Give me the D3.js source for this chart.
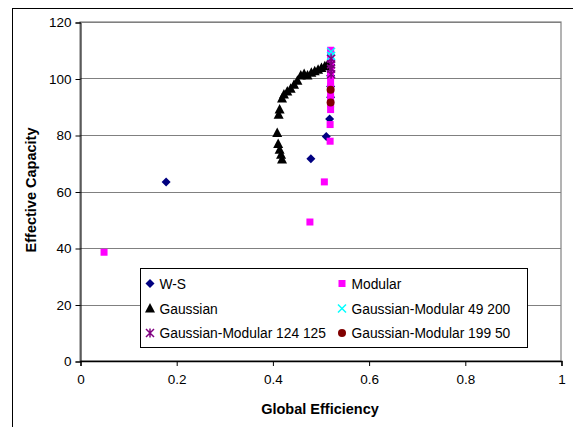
<!DOCTYPE html>
<html><head><meta charset="utf-8">
<script src="https://cdn.jsdelivr.net/npm/d3@7"></script>
<style>body{margin:0;background:#fff}svg{display:block}text{font-family:Arial,"Liberation Sans",sans-serif}</style>
</head><body>
<script>
const xTicks = [0, 0.2, 0.4, 0.6, 0.8, 1];
const yTicks = [0, 20, 40, 60, 80, 100, 120];
const seriesNames = ["W-S", "Modular", "Gaussian", "Gaussian-Modular 49 200", "Gaussian-Modular 124 125", "Gaussian-Modular 199 50"];

const wsX = [0.179, 0.48, 0.512, 0.519, 0.521, 0.521, 0.521, 0.521];
const wsY = [63.4, 71.6, 79.5, 85.7, 93.4, 97.2, 101, 105];

const modX = [0.05, 0.478, 0.508, 0.52, 0.52, 0.521, 0.521, 0.521, 0.521, 0.521, 0.521, 0.521, 0.521, 0.521, 0.521, 0.521, 0.521];
const modY = [38.5, 49.2, 63.4, 77.8, 83.7, 89, 91, 93, 95, 97, 99, 101, 103, 105, 107, 109, 110];

const gauX = [0.420, 0.418, 0.415, 0.412, 0.410, 0.413, 0.415, 0.420, 0.424, 0.431, 0.438, 0.445, 0.452, 0.459, 0.466, 0.473, 0.481, 0.488, 0.495, 0.502, 0.509, 0.515];
const gauY = [71.3, 73.0, 74.8, 76.8, 80.7, 87.2, 89.0, 92.9, 94.3, 95.4, 96.4, 97.8, 99.2, 101.1, 101.6, 101.1, 102.0, 102.6, 103.1, 103.7, 104.3, 105.0];

const gm49X = [0.522, 0.522];
const gm49Y = [109.5, 108];

const gm124X = [0.522, 0.522, 0.522, 0.522];
const gm124Y = [107, 105, 103.5, 101.5];

const gm199X = [0.521, 0.521];
const gm199Y = [96, 91.5];

const W = 573, H = 427;
const svg = d3.select("body").append("svg").attr("width", W).attr("height", H);

// outer chart frame
svg.append("rect").attr("x", 12.5).attr("y", 8.5).attr("width", 700).attr("height", 600)
  .attr("fill", "#fff").attr("stroke", "#000").attr("stroke-width", 1);

const x = d3.scaleLinear().domain([0, 1]).range([80, 561]);
const y = d3.scaleLinear().domain([0, 120]).range([361, 22]);

// plot area border
svg.append("rect").attr("x", 80).attr("y", 22).attr("width", 481).attr("height", 339)
  .attr("fill", "none").attr("stroke", "#808080").attr("stroke-width", 1.2);

// gridlines
svg.append("g").selectAll("line").data(yTicks.filter(d => d > 0)).join("line")
  .attr("x1", 80).attr("x2", 561).attr("y1", d => Math.round(y(d)) + 0.5).attr("y2", d => Math.round(y(d)) + 0.5)
  .attr("stroke", "#808080").attr("stroke-width", 1.2);

// axes
const yAxis = d3.axisLeft(y).tickValues(yTicks).tickSize(5).tickPadding(4).tickFormat(d3.format("d"));
const gy = svg.append("g").attr("transform", "translate(80.5,0.5)").call(yAxis);
gy.selectAll("text").attr("font-size", 13.5).attr("fill", "#000");
gy.select(".domain").attr("stroke", "#000");

const xAxis = d3.axisBottom(x).tickValues(xTicks).tickSize(5).tickPadding(8).tickFormat(d => d === 0 || d === 1 ? String(d) : d3.format(".1f")(d));
const gx = svg.append("g").attr("transform", "translate(0.5,361)").call(xAxis);
gx.selectAll("text").attr("font-size", 13.5).attr("fill", "#000");
gx.select(".domain").attr("stroke", "#000").attr("stroke-width", 1.3);

// axis titles
svg.append("text").attr("x", 320).attr("y", 414).attr("text-anchor", "middle")
  .attr("font-size", 14.5).attr("font-weight", "bold").text("Global Efficiency");
svg.append("text").attr("transform", "translate(36,190) rotate(-90)").attr("text-anchor", "middle")
  .attr("font-size", 14.5).attr("font-weight", "bold").text("Effective Capacity");

// marker drawers
const markers = {
  diamond: (g, col) => g.append("path").attr("d", "M0,-4.5L4.5,0L0,4.5L-4.5,0Z").attr("fill", col),
  square: (g, col) => g.append("rect").attr("x", -3.5).attr("y", -3.5).attr("width", 7).attr("height", 7).attr("fill", col),
  triangle: (g, col) => g.append("path").attr("d", "M0,-5.5L5,4L-5,4Z").attr("fill", col),
  xmark: (g, col) => g.append("path").attr("d", "M-4,-4L4,4M-4,4L4,-4").attr("stroke", col).attr("stroke-width", 1.5).attr("fill", "none"),
  asterisk: (g, col) => g.append("path").attr("d", "M-4,-4L4,4M-4,4L4,-4M0,-4.5L0,4.5").attr("stroke", col).attr("stroke-width", 1.5).attr("fill", "none"),
  circle: (g, col) => g.append("circle").attr("r", 4).attr("fill", col)
};

const series = [
  { name: seriesNames[0], xs: wsX, ys: wsY, m: "diamond", c: "#000080" },
  { name: seriesNames[1], xs: modX, ys: modY, m: "square", c: "#FF00FF" },
  { name: seriesNames[2], xs: gauX, ys: gauY, m: "triangle", c: "#000000" },
  { name: seriesNames[3], xs: gm49X, ys: gm49Y, m: "xmark", c: "#00FFFF" },
  { name: seriesNames[4], xs: gm124X, ys: gm124Y, m: "asterisk", c: "#800080" },
  { name: seriesNames[5], xs: gm199X, ys: gm199Y, m: "circle", c: "#800000" }
];

series.forEach(s => {
  const g = svg.append("g");
  s.xs.forEach((xv, i) => {
    const p = g.append("g").attr("transform", `translate(${x(xv)},${y(s.ys[i])})`);
    markers[s.m](p, s.c);
  });
});

// legend
const lg = svg.append("g");
lg.append("rect").attr("x", 140.5).attr("y", 268.5).attr("width", 387).attr("height", 79)
  .attr("fill", "#fff").attr("stroke", "#000").attr("stroke-width", 1);
const colX = [150, 342], rowY = [283.5, 308.5, 333];
series.forEach((s, i) => {
  const cx = colX[i % 2], cy = rowY[Math.floor(i / 2)];
  const p = lg.append("g").attr("transform", `translate(${cx},${cy})`);
  markers[s.m](p, s.c);
  lg.append("text").attr("x", cx + 9.5).attr("y", cy + 5).attr("font-size", 13.8).text(s.name);
});
</script>
</body></html>
